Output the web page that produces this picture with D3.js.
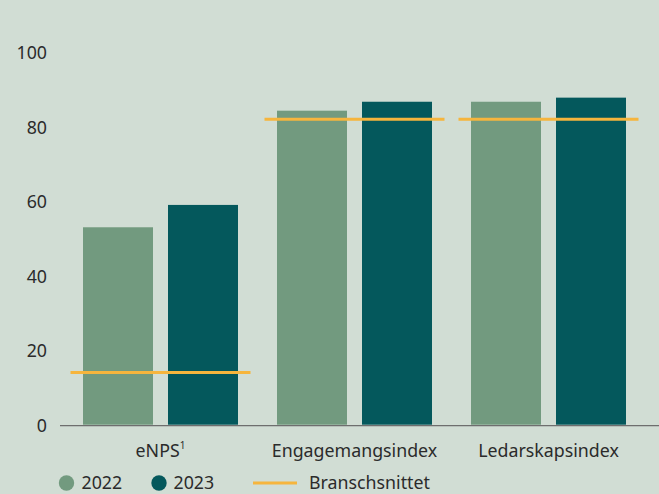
<!DOCTYPE html>
<html><head><meta charset="utf-8">
<script src="https://cdn.jsdelivr.net/npm/d3@7"></script>
<style>
html,body{margin:0;padding:0;background:#d1ddd4;}
svg{display:block;}
text{font-family:"Noto Sans", sans-serif;fill:#2b2b2b;}
</style></head>
<body>
<svg id="chart" width="659" height="494"></svg>
<script>
const categories = ["eNPS", "Engagemangsindex", "Ledarskapsindex"];
const series = ["2022", "2023"];
const values2022 = [53, 84.3, 86.7];
const values2023 = [59, 86.7, 87.8];
const industryAvg = [14, 82, 82];
const yTicks = [0, 20, 40, 60, 80, 100];
const legendLineLabel = "Branschsnittet";

const colors = {"2022": "#729a7f", "2023": "#04585c"};
const lineColor = "#f6b53d";
const FS = 17.8;

const W = 659, H = 494;
const svg = d3.select("#chart");
svg.append("rect").attr("width", W).attr("height", H).attr("fill", "#d1ddd4");

const y = d3.scaleLinear().domain([0, 100]).range([424.7, 52.2]);
const x0 = d3.scaleBand().domain(categories).range([63.5, 645.5]).paddingInner(0).paddingOuter(0);
const groupW = 155;
const x1 = d3.scaleBand().domain(series).range([0, groupW]).paddingInner(15/85).paddingOuter(0);

const data = categories.map((c, i) => ({cat: c, vals: [{s: "2022", v: values2022[i]}, {s: "2023", v: values2023[i]}], avg: industryAvg[i]}));

// y axis labels
const yAxis = d3.axisLeft(y).tickValues(yTicks).tickSize(0).tickPadding(0).tickFormat(d3.format("d"));
const gy = svg.append("g").attr("transform", "translate(47,0)").call(yAxis);
gy.select(".domain").remove();
gy.selectAll("text").attr("font-size", FS).attr("dy", "0.36em").style("font-family", "'Noto Sans', sans-serif").attr("fill", "#2b2b2b");

// bars
const groups = svg.append("g").selectAll("g").data(data).join("g")
  .attr("transform", d => `translate(${x0(d.cat) + (x0.bandwidth() - groupW) / 2},0)`);
groups.selectAll("rect").data(d => d.vals).join("rect")
  .attr("x", d => x1(d.s))
  .attr("width", x1.bandwidth())
  .attr("y", d => y(d.v))
  .attr("height", d => y(0) - y(d.v))
  .attr("fill", d => colors[d.s]);

// industry average lines
svg.append("g").selectAll("line").data(data).join("line")
  .attr("x1", d => x0(d.cat) + x0.bandwidth() / 2 - 90)
  .attr("x2", d => x0(d.cat) + x0.bandwidth() / 2 + 90)
  .attr("y1", d => y(d.avg)).attr("y2", d => y(d.avg))
  .attr("stroke", lineColor).attr("stroke-width", 3);

// x axis line
svg.append("line").attr("x1", 60).attr("x2", 659).attr("y1", y(0) + 1).attr("y2", y(0) + 1)
  .attr("stroke", "#6e6e6e").attr("stroke-width", 1.3);

const catLabels = svg.append("g").selectAll("text").data(categories).join("text")
  .attr("x", d => x0(d) + x0.bandwidth() / 2)
  .attr("y", 456.5)
  .attr("text-anchor", "middle")
  .attr("font-size", FS);
catLabels.each(function(d) {
  const t = d3.select(this);
  t.append("tspan").text(d);
  if (d === "eNPS") t.append("tspan").text("1").attr("font-size", 10).attr("dy", "-0.75em");
});

// legend
const lg = svg.append("g");
const ly = 483;
const lty = 488.8;
[{s: "2022", cx: 66.5, tx: 81.5}, {s: "2023", cx: 159, tx: 173.5}].forEach(o => {
  lg.append("circle").attr("cx", o.cx).attr("cy", ly).attr("r", 7.7).attr("fill", colors[o.s]);
  lg.append("text").attr("x", o.tx).attr("y", lty).attr("font-size", FS).text(o.s);
});
lg.append("line").attr("x1", 253).attr("x2", 297).attr("y1", ly).attr("y2", ly).attr("stroke", lineColor).attr("stroke-width", 3);
lg.append("text").attr("x", 309).attr("y", lty).attr("font-size", FS).text(legendLineLabel);
</script>
</body></html>
